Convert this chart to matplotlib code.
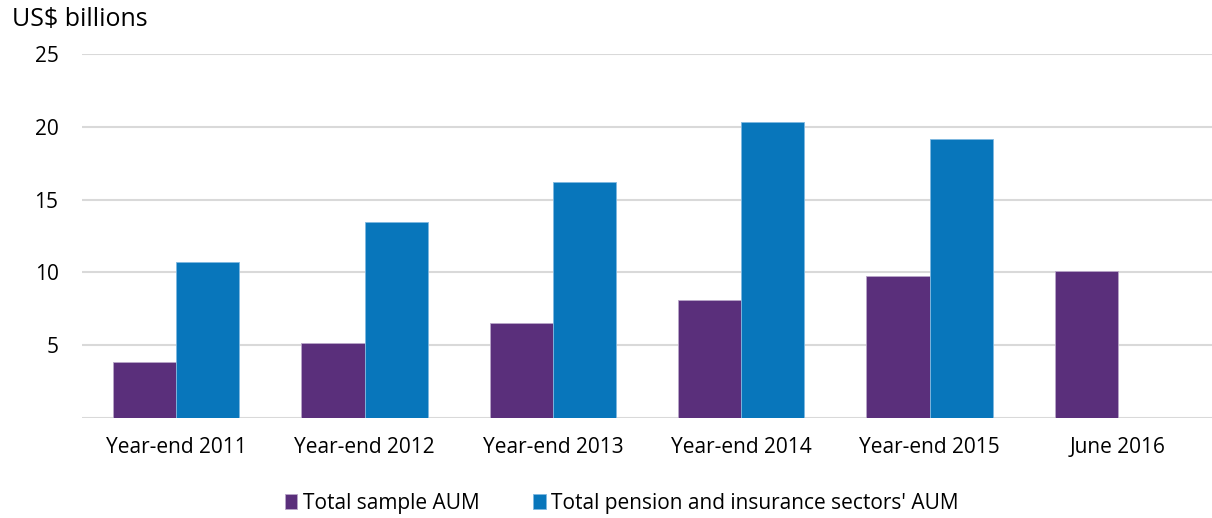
import matplotlib
matplotlib.use("Agg")
import matplotlib.pyplot as plt
import numpy as np

plt.rcParams['font.family'] = ['Open Sans', 'DejaVu Sans']

categories = ["Year-end 2011", "Year-end 2012", "Year-end 2013", "Year-end 2014", "Year-end 2015", "June 2016"]
sample_aum = [3.86, 5.18, 6.54, 8.13, 9.77, 10.06]
pension_aum = [10.70, 13.47, 16.22, 20.31, 19.13, np.nan]
series_names = ["Total sample AUM", "Total pension and insurance sectors' AUM"]
yticks = [5, 10, 15, 20, 25]

purple = "#5a2f7b"
blue = "#0876bb"

fig = plt.figure(figsize=(12.12, 5.18), dpi=100)
ax = fig.add_axes([0.0677, 0.193, 0.9323, 0.703])

x = np.arange(len(categories))
w = 0.335
ax.bar(x - w/2, sample_aum, w, color=purple, edgecolor="#b9a6c9", linewidth=0.6, label=series_names[0], zorder=3)
ax.bar(x + w/2, pension_aum, w, color=blue, edgecolor="#7fb8e0", linewidth=0.6, label=series_names[1], zorder=3)

ax.set_xlim(-0.5, len(categories) - 0.5)
ax.set_ylim(0, 25)
ax.set_yticks(yticks)
ax.set_yticklabels([str(t) for t in yticks])
ax.set_xticks(x)
ax.set_xticklabels(categories)
ax.tick_params(axis='both', length=0, labelsize=15, colors="#000000")
ax.tick_params(axis='y', pad=17)
ax.tick_params(axis='x', pad=14)
for s in ax.spines.values():
    s.set_visible(False)
ax.yaxis.grid(True, color="#d9d9d9", linewidth=1.5, zorder=0)
ax.axhline(0, color="#d9d9d9", linewidth=1.5, zorder=1)

fig.text(0.010, 0.962, "US$ billions", fontsize=18, va="center", ha="left")

leg = fig.legend(loc="center", bbox_to_anchor=(0.513, 0.028), ncol=2, frameon=False,
                 fontsize=15, handlelength=0.6, handleheight=0.75, handletextpad=0.25,
                 columnspacing=2.6)

fig.savefig("out.png", dpi=100)
